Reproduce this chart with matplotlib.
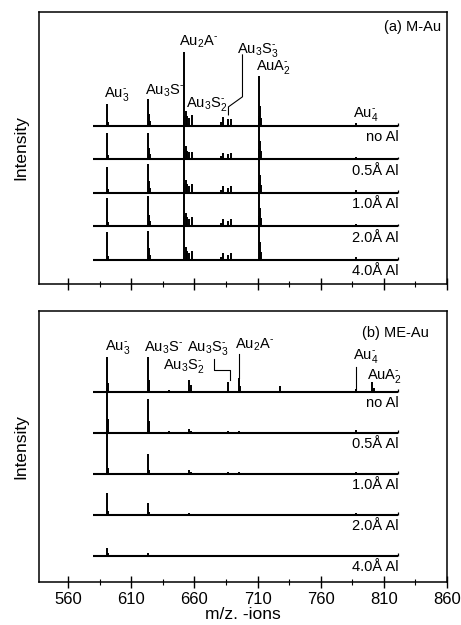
import matplotlib
matplotlib.use("Agg")
import matplotlib.pyplot as plt

plt.rcParams['font.family'] = ['Liberation Sans', 'DejaVu Sans']
plt.rcParams['mathtext.fontset'] = 'custom'
plt.rcParams['mathtext.rm'] = 'Liberation Sans'
plt.rcParams['mathtext.default'] = 'regular'

# m/z range of the recorded traces
MZ_START, MZ_END = 580, 821
major_ticks = [560, 610, 660, 710, 760, 810, 860]
minor_ticks = [585, 635, 685, 735, 785, 835]

# ---- (a) M-Au : peak positions (m/z) and stick heights per deposit ----
top_mz = [591, 592, 623, 624, 625, 640, 652, 653, 654, 656, 658, 670,
          681, 683, 687, 689, 711, 712, 713, 735, 760, 788]
top_no_al = [0.66, 0.12, 0.80, 0.35, 0.15, 0.04, 2.20, 0.45, 0.30, 0.25, 0.33, 0.04,
             0.12, 0.27, 0.20, 0.20, 1.50, 0.60, 0.25, 0.04, 0.03, 0.10]
top_05 = [0.78, 0.12, 0.80, 0.35, 0.15, 0.04, 1.30, 0.40, 0.25, 0.22, 0.22, 0.04,
          0.10, 0.20, 0.15, 0.20, 1.30, 0.55, 0.25, 0.04, 0.03, 0.08]
top_10 = [0.78, 0.12, 0.87, 0.35, 0.15, 0.04, 1.30, 0.40, 0.27, 0.22, 0.27, 0.04,
          0.10, 0.20, 0.15, 0.22, 1.30, 0.55, 0.25, 0.04, 0.03, 0.08]
top_20 = [0.84, 0.12, 0.90, 0.35, 0.15, 0.04, 1.30, 0.40, 0.27, 0.22, 0.27, 0.04,
          0.10, 0.22, 0.15, 0.22, 1.30, 0.55, 0.25, 0.04, 0.03, 0.08]
top_40 = [0.84, 0.12, 0.87, 0.35, 0.15, 0.04, 1.30, 0.40, 0.27, 0.22, 0.27, 0.04,
          0.10, 0.20, 0.15, 0.22, 1.30, 0.55, 0.25, 0.04, 0.03, 0.08]

# ---- (b) ME-Au ----
bot_mz = [591, 592, 623, 624, 640, 656, 657, 687, 695, 696, 728, 788, 801, 802]
bot_no_al = [0.85, 0.22, 0.85, 0.30, 0.05, 0.30, 0.18, 0.25, 0.35, 0.15, 0.15, 0.08, 0.25, 0.10]
bot_05 = [1.10, 0.35, 0.83, 0.30, 0.06, 0.10, 0.06, 0.06, 0.06, 0.00, 0.03, 0.08, 0.03, 0.00]
bot_10 = [1.05, 0.15, 0.50, 0.10, 0.03, 0.10, 0.05, 0.04, 0.04, 0.00, 0.02, 0.05, 0.02, 0.00]
bot_20 = [0.55, 0.10, 0.30, 0.08, 0.02, 0.05, 0.00, 0.02, 0.02, 0.00, 0.00, 0.04, 0.00, 0.00]
bot_40 = [0.20, 0.08, 0.08, 0.03, 0.00, 0.02, 0.00, 0.00, 0.00, 0.00, 0.00, 0.02, 0.00, 0.00]

deposits = ['no Al', '0.5Å Al', '1.0Å Al', '2.0Å Al', '4.0Å Al']

# superscript charge sign drawn as a short dash
NEG = '\u2010'
# peak labels: text, m/z of left edge, height above the "no Al" trace
top_labels = [(f'Au$_3^{NEG}$', 588.6, 0.69), (f'Au$_3$S$^{NEG}$', 621.1, 0.81),
              (f'Au$_2$A$^{NEG}$', 648.1, 2.27), (f'Au$_3$S$_2^{NEG}$', 653.7, 0.39),
              (f'Au$_3$S$_3^{NEG}$', 694.1, 2.00), (f'AuA$_2^{NEG}$', 709.0, 1.49),
              (f'Au$_4^{NEG}$', 785.4, 0.09)]
bot_labels = [(f'Au$_3^{NEG}$', 589.4, 0.88), (f'Au$_3$S$^{NEG}$', 619.8, 0.88),
              (f'Au$_3$S$_3^{NEG}$', 654.2, 0.86), (f'Au$_2$A$^{NEG}$', 691.8, 0.96),
              (f'Au$_3$S$_2^{NEG}$', 635.2, 0.41), (f'Au$_4^{NEG}$', 785.2, 0.66),
              (f'AuA$_2^{NEG}$', 796.5, 0.17)]

# leader lines (m/z, height above "no Al" trace)
top_leaders = [([698.1, 698.1, 687.0, 687.0], [2.12, 0.87, 0.57, 0.33])]
bot_leaders = [([675.3, 675.3, 688.0, 688.0], [0.80, 0.55, 0.55, 0.29]),
               ([695.0, 695.0], [0.35, 0.93]),
               ([788.0, 788.0], [0.08, 0.62])]


def draw_panel(ax, mz, spectra, labels, leaders, title, title_xy, ylim):
    n = len(spectra)
    for i, (name, heights) in enumerate(zip(deposits, spectra)):
        base = n - 1 - i
        ax.hlines(base, MZ_START, MZ_END, color='black', lw=1.5)
        ax.vlines(MZ_END, base, base + 0.08, color='black', lw=0.9)
        ax.vlines(mz, base, [base + h for h in heights], color='black', lw=1.4)
        ax.annotate(name, xy=(MZ_END + 1, base), xytext=(0, -8),
                    textcoords='offset points', ha='right', va='center', fontsize=10.5)
    top = n - 1
    for txt, x, h in labels:
        ax.text(x, top + h, txt, ha='left', va='bottom', fontsize=10.5)
    for xs, ys in leaders:
        ax.plot(xs, [top + y for y in ys], color='black', lw=0.8)
    ax.text(title_xy[0], title_xy[1], title, ha='right', va='center', fontsize=10.5)

    ax.set_xlim(537, 860)
    ax.set_ylim(*ylim)
    ax.set_yticks([])
    ax.set_xticks(major_ticks)
    ax.set_xticks(minor_ticks, minor=True)
    ax.tick_params(axis='x', which='major', direction='inout', length=8, width=1.0,
                   labelsize=12, pad=3)
    ax.tick_params(axis='x', which='minor', direction='inout', length=4, width=0.8)
    for sp in ax.spines.values():
        sp.set_linewidth(1.1)
    ax.set_ylabel('Intensity', fontsize=12.5, labelpad=8)


fig = plt.figure(figsize=(4.61, 6.25), dpi=100)
ax1 = fig.add_axes([0.0846, 0.5456, 0.885, 0.4352])
ax2 = fig.add_axes([0.0846, 0.0688, 0.885, 0.4336])

draw_panel(ax1, top_mz, [top_no_al, top_05, top_10, top_20, top_40],
           top_labels, top_leaders, '(a) M-Au', (855, 6.96), (-0.716, 7.40))
draw_panel(ax2, bot_mz, [bot_no_al, bot_05, bot_10, bot_20, bot_40],
           bot_labels, bot_leaders, '(b) ME-Au', (845.7, 5.44), (-0.634, 5.98))

ax1.set_xticklabels([])
ax2.set_xlabel('m/z. -ions', fontsize=12.5, labelpad=0)

fig.savefig('out.png', dpi=100)
